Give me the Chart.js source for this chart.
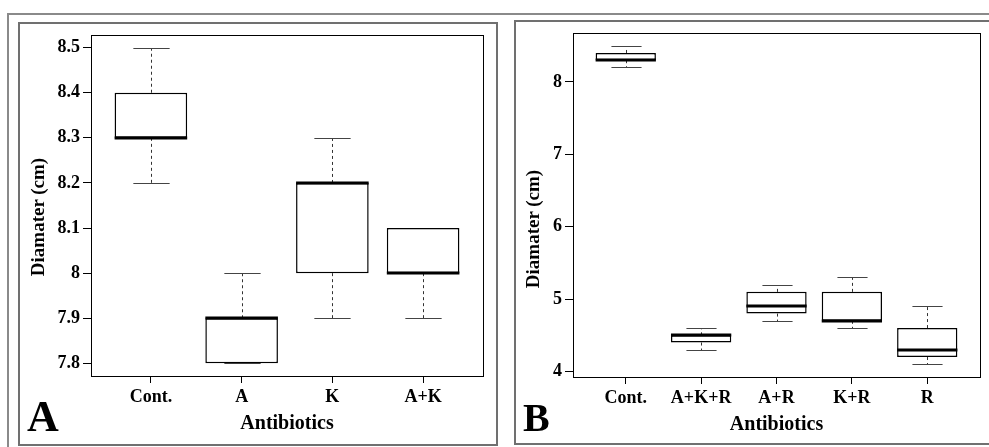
<!DOCTYPE html>
<html>
<head>
<meta charset="utf-8">
<script src="https://cdn.jsdelivr.net/npm/chart.js@4.4.1/dist/chart.umd.min.js"></script>
<style>
body{margin:0;background:#fff;width:989px;height:447px;overflow:hidden;position:relative;font-family:"Liberation Serif","Times New Roman",serif;color:#000;}
#outer{position:absolute;left:7px;top:13px;width:990px;height:450px;border-top:2px solid #8a8a8a;border-left:2px solid #8a8a8a;}
.frame{position:absolute;border:2px solid #707070;box-sizing:border-box;}
#frameA{left:18px;top:22px;width:480px;height:424px;}
#frameB{left:514px;top:20px;width:490px;height:425px;}
.box{position:absolute;}
#boxA{left:20px;top:24px;width:476px;height:420px;}
#boxB{left:516px;top:22px;width:473px;height:421px;}
.letter{position:absolute;font-weight:bold;line-height:1;}
.ytitle{position:absolute;font-weight:bold;font-size:19px;white-space:nowrap;transform:translate(-50%,-50%) rotate(-90deg);}
</style>
</head>
<body>
<div id="outer"></div>
<div class="frame" id="frameA"></div>
<div class="frame" id="frameB"></div>
<div class="box" id="boxA"><canvas id="chartA"></canvas></div>
<div class="box" id="boxB"><canvas id="chartB"></canvas></div>
<div class="ytitle" style="left:38px;top:217px;">Diamater (cm)</div>
<div class="ytitle" style="left:533px;top:229px;">Diamater (cm)</div>
<div class="letter" style="left:27px;top:395px;font-size:44px;">A</div>
<div class="letter" style="left:523px;top:398px;font-size:40px;">B</div>
<script>
// panel A
const catsA = ['Cont.', 'A', 'K', 'A+K'];
const minA = [8.2, 7.8, 7.9, 7.9];
const q1A  = [8.3, 7.8, 8.0, 8.0];
const medA = [8.3, 7.9, 8.2, 8.0];
const q3A  = [8.4, 7.9, 8.2, 8.1];
const maxA = [8.5, 8.0, 8.3, 8.1];
const yTicksA = [7.8, 7.9, 8, 8.1, 8.2, 8.3, 8.4, 8.5];

// panel B
const catsB = ['Cont.', 'A+K+R', 'A+R', 'K+R', 'R'];
const minB = [8.2, 4.3, 4.7, 4.6, 4.1];
const q1B  = [8.3, 4.4, 4.8, 4.7, 4.2];
const medB = [8.3, 4.5, 4.9, 4.7, 4.3];
const q3B  = [8.4, 4.5, 5.1, 5.1, 4.6];
const maxB = [8.5, 4.6, 5.2, 5.3, 4.9];
const yTicksB = [4, 5, 6, 7, 8];

Chart.defaults.font.family = '"Liberation Serif", "Times New Roman", serif';
Chart.defaults.font.weight = 'bold';
Chart.defaults.color = '#000';

// whiskers, medians and plot box
const boxParts = {
  id: 'boxParts',
  beforeDatasetsDraw(chart, args, opts) {
    const {ctx} = chart;
    const y = chart.scales.y;
    const bars = chart.getDatasetMeta(0).data;
    ctx.save();
    ctx.lineWidth = 1;
    bars.forEach((bar, i) => {
      const x = Math.round(bar.x) + 0.5;
      const cap = bar.width / 4;
      const pMin = Math.round(y.getPixelForValue(opts.mins[i])) + 0.5;
      const pMax = Math.round(y.getPixelForValue(opts.maxs[i])) + 0.5;
      const pQ1 = y.getPixelForValue(opts.q1s[i]);
      const pQ3 = y.getPixelForValue(opts.q3s[i]);
      ctx.strokeStyle = '#333';
      ctx.setLineDash([3, 3]);
      ctx.beginPath();
      ctx.moveTo(x, pQ3); ctx.lineTo(x, pMax);
      ctx.moveTo(x, pQ1); ctx.lineTo(x, pMin);
      ctx.stroke();
      ctx.setLineDash([]);
      ctx.strokeStyle = '#444';
      ctx.beginPath();
      ctx.moveTo(x - cap, pMax); ctx.lineTo(x + cap, pMax);
      ctx.moveTo(x - cap, pMin); ctx.lineTo(x + cap, pMin);
      ctx.stroke();
    });
    ctx.restore();
  },
  afterDatasetsDraw(chart, args, opts) {
    const {ctx} = chart;
    const y = chart.scales.y;
    const bars = chart.getDatasetMeta(0).data;
    ctx.save();
    ctx.strokeStyle = '#000';
    ctx.lineWidth = 3;
    bars.forEach((bar, i) => {
      const py = Math.round(y.getPixelForValue(opts.meds[i]));
      ctx.beginPath();
      ctx.moveTo(bar.x - bar.width / 2, py);
      ctx.lineTo(bar.x + bar.width / 2, py);
      ctx.stroke();
    });
    const a = chart.chartArea;
    ctx.lineWidth = 1;
    ctx.strokeRect(Math.round(a.left) + 0.5, Math.round(a.top) + 0.5,
      Math.round(a.right - a.left), Math.round(a.bottom - a.top));
    ctx.restore();
  }
};

function boxChart(id, cats, mins, q1s, meds, q3s, maxs, yTicks, lay) {
  const lo = Math.min(...mins), hi = Math.max(...maxs);
  const ext = (hi - lo) * 0.04;
  const n = cats.length;
  return new Chart(document.getElementById(id), {
    type: 'bar',
    data: {
      datasets: [{
        data: cats.map((c, i) => ({x: i + 1, y: [q1s[i], q3s[i]]})),
        backgroundColor: '#fff',
        borderColor: '#000',
        borderWidth: 1.5,
        borderSkipped: false,
        categoryPercentage: 0.8,
        barPercentage: 1
      }]
    },
    options: {
      responsive: true,
      maintainAspectRatio: false,
      animation: false,
      layout: {padding: {left: 0, top: lay.top, right: lay.right, bottom: 0}},
      plugins: {
        legend: {display: false},
        tooltip: {enabled: false},
        boxParts: {mins, q1s, meds, q3s, maxs}
      },
      scales: {
        x: {
          type: 'linear',
          offset: false,
          min: 0.5 - 0.04 * n,
          max: n + 0.5 + 0.04 * n,
          afterBuildTicks: s => { s.ticks = cats.map((c, i) => ({value: i + 1})); },
          afterFit: s => { s.height = lay.xh; s.paddingLeft = 0; s.paddingRight = 0; },
          ticks: {callback: v => cats[v - 1], padding: 4, autoSkip: false, maxRotation: 0, font: {size: 18}},
          grid: {offset: false, drawOnChartArea: false, tickLength: 7, color: '#000'},
          border: {display: false},
          title: {display: true, text: 'Antibiotics', font: {size: 20}, padding: {top: 0, bottom: lay.tb}}
        },
        y: {
          type: 'linear',
          min: lo - ext,
          max: hi + ext,
          afterBuildTicks: s => { s.ticks = yTicks.map(v => ({value: v})); },
          afterFit: s => { s.width = lay.yw; s.paddingTop = 0; s.paddingBottom = 0; },
          ticks: {callback: v => String(v), padding: 3, font: {size: 18}},
          grid: {drawOnChartArea: false, tickLength: 8, color: '#000'},
          border: {display: false}
        }
      }
    },
    plugins: [boxParts]
  });
}

boxChart('chartA', catsA, minA, q1A, medA, q3A, maxA, yTicksA, {top: 11, right: 13, xh: 68, yw: 71, tb: 8});
boxChart('chartB', catsB, minB, q1B, medB, q3B, maxB, yTicksB, {top: 11, right: 9, xh: 66, yw: 57, tb: 6});
</script>
</body>
</html>
